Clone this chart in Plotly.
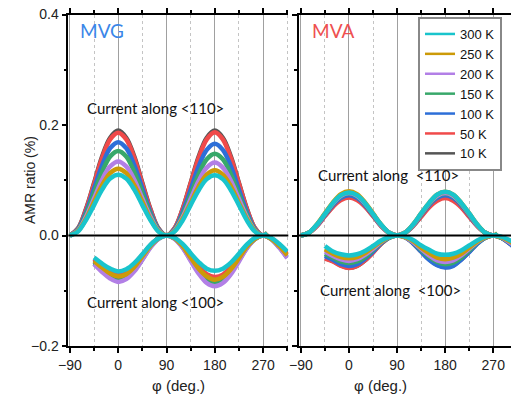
import plotly.graph_objects as go

TEMPS = ["10 K", "50 K", "100 K", "150 K", "200 K", "250 K", "300 K"]
COLORS = {"10 K": "#555555", "50 K": "#f04a4a", "100 K": "#2d6fd8", "150 K": "#38a86a",
          "200 K": "#b27fe6", "250 K": "#cc9a08", "300 K": "#19c4cc"}

PHI_110 = [-90, -75, -60, -45, -30, -15, 0, 15, 30, 45, 60, 75, 90, 105, 120, 135, 150, 165,
           180, 195, 210, 225, 240, 255, 270, 278]
PHI_100 = [-45, -30, -15, 0, 15, 30, 45, 60, 75, 90, 105, 120, 135, 150, 165, 180, 195, 210,
           225, 240, 255, 270, 285, 300, 315]

# MVG, current along <110>
MVG_110 = {
    "10 K":  [0, .013, .048, .095, .143, .177, .190, .177, .143, .095, .048, .013, 0, .013, .048, .095, .143, .177, .190, .177, .143, .095, .048, .013, 0, .003],
    "50 K":  [0, .012, .047, .093, .140, .174, .186, .174, .140, .093, .047, .012, 0, .013, .047, .094, .140, .174, .187, .174, .140, .094, .047, .013, 0, .003],
    "100 K": [0, .011, .042, .085, .127, .158, .169, .158, .127, .085, .042, .011, 0, .011, .042, .083, .125, .155, .166, .155, .125, .083, .042, .011, 0, .003],
    "150 K": [0, .010, .038, .077, .115, .143, .153, .143, .115, .077, .038, .010, 0, .010, .037, .074, .111, .138, .148, .138, .111, .074, .037, .010, 0, .004],
    "200 K": [0, .009, .034, .067, .101, .125, .134, .125, .101, .067, .034, .009, 0, .009, .033, .066, .099, .123, .132, .123, .099, .066, .033, .009, 0, .005],
    "250 K": [0, .008, .030, .061, .091, .113, .121, .113, .091, .061, .030, .008, 0, .008, .030, .059, .089, .110, .118, .110, .089, .059, .030, .008, 0, .005],
    "300 K": [0, .007, .028, .055, .083, .103, .110, .103, .083, .055, .028, .007, 0, .007, .027, .055, .082, .102, .109, .102, .082, .055, .027, .007, 0, .004],
}
# MVG, current along <100>
MVG_100 = {
    "10 K":  [-.043, -.055, -.065, -.070, -.066, -.054, -.036, -.018, -.005, 0, -.005, -.019, -.039, -.059, -.073, -.078, -.073, -.059, -.040, -.020, -.005, 0, -.005, -.019, -.035],
    "50 K":  [-.042, -.053, -.063, -.068, -.064, -.052, -.035, -.018, -.005, 0, -.005, -.018, -.038, -.056, -.070, -.075, -.071, -.057, -.038, -.019, -.005, 0, -.005, -.018, -.034],
    "100 K": [-.048, -.061, -.073, -.078, -.073, -.060, -.041, -.020, -.005, 0, -.005, -.021, -.043, -.065, -.080, -.086, -.081, -.065, -.044, -.022, -.006, 0, -.006, -.021, -.039],
    "150 K": [-.051, -.064, -.076, -.082, -.077, -.063, -.043, -.021, -.006, 0, -.005, -.021, -.044, -.066, -.082, -.088, -.083, -.067, -.045, -.022, -.006, 0, -.006, -.021, -.040],
    "200 K": [-.052, -.066, -.078, -.084, -.079, -.065, -.044, -.022, -.006, 0, -.006, -.022, -.046, -.069, -.086, -.092, -.086, -.070, -.047, -.023, -.006, 0, -.006, -.022, -.041],
    "250 K": [-.046, -.058, -.069, -.074, -.070, -.057, -.038, -.019, -.005, 0, -.005, -.019, -.040, -.060, -.074, -.080, -.075, -.061, -.041, -.020, -.006, 0, -.006, -.019, -.036],
    "300 K": [-.040, -.051, -.060, -.065, -.061, -.050, -.034, -.017, -.005, 0, -.004, -.015, -.032, -.048, -.060, -.064, -.060, -.049, -.033, -.016, -.004, 0, -.004, -.015, -.029],
}
# MVA, current along <110>
MVA_110 = {
    "10 K":  [0, .005, .018, .036, .053, .066, .071, .066, .053, .036, .018, .005, 0, .005, .018, .035, .053, .065, .070, .065, .053, .035, .018, .005, 0, .002],
    "50 K":  [0, .005, .017, .035, .052, .064, .069, .064, .052, .035, .017, .005, 0, .005, .017, .034, .051, .063, .068, .063, .051, .034, .017, .005, 0, .002],
    "100 K": [0, .005, .018, .037, .055, .068, .073, .068, .055, .037, .018, .005, 0, .005, .018, .037, .055, .068, .073, .068, .055, .037, .018, .005, 0, .002],
    "150 K": [0, .005, .019, .038, .057, .071, .076, .071, .057, .038, .019, .005, 0, .005, .019, .038, .057, .071, .076, .071, .057, .038, .019, .005, 0, .003],
    "200 K": [0, .005, .019, .039, .058, .072, .077, .072, .058, .039, .019, .005, 0, .005, .019, .039, .058, .072, .077, .072, .058, .039, .019, .005, 0, .003],
    "250 K": [0, .005, .020, .040, .060, .075, .080, .075, .060, .040, .020, .005, 0, .005, .020, .040, .059, .074, .079, .074, .059, .040, .020, .005, 0, .004],
    "300 K": [0, .005, .020, .039, .059, .073, .078, .073, .059, .039, .020, .005, 0, .005, .020, .040, .059, .074, .079, .074, .059, .040, .020, .005, 0, .003],
}
# MVA, current along <100>
MVA_100 = {
    "10 K":  [-.041, -.046, -.054, -.058, -.055, -.045, -.030, -.015, -.004, 0, -.003, -.014, -.029, -.043, -.053, -.057, -.054, -.043, -.029, -.014, -.004, 0, -.004, -.014, -.026],
    "50 K":  [-.042, -.047, -.055, -.059, -.055, -.045, -.031, -.015, -.004, 0, -.003, -.013, -.028, -.042, -.052, -.056, -.053, -.043, -.029, -.014, -.004, 0, -.004, -.013, -.025],
    "100 K": [-.037, -.044, -.052, -.055, -.052, -.042, -.029, -.014, -.004, 0, -.003, -.014, -.029, -.044, -.054, -.058, -.055, -.044, -.030, -.015, -.004, 0, -.004, -.014, -.026],
    "150 K": [-.033, -.040, -.047, -.050, -.047, -.039, -.026, -.013, -.004, 0, -.003, -.012, -.026, -.039, -.048, -.052, -.049, -.040, -.027, -.013, -.004, 0, -.004, -.012, -.023],
    "200 K": [-.029, -.037, -.043, -.046, -.043, -.035, -.024, -.012, -.003, 0, -.003, -.012, -.024, -.036, -.045, -.048, -.045, -.036, -.024, -.012, -.003, 0, -.003, -.012, -.022],
    "250 K": [-.025, -.033, -.039, -.041, -.039, -.032, -.021, -.011, -.003, 0, -.003, -.010, -.022, -.032, -.040, -.043, -.040, -.033, -.022, -.011, -.003, 0, -.003, -.010, -.019],
    "300 K": [-.019, -.029, -.034, -.036, -.034, -.028, -.019, -.009, -.003, 0, -.002, -.008, -.018, -.026, -.033, -.035, -.033, -.027, -.018, -.009, -.002, 0, -.002, -.008, -.016],
}

LW = 4.5
fig = go.Figure()
for panel, (d110, d100) in {("x", "y"): (MVG_110, MVG_100), ("x2", "y2"): (MVA_110, MVA_100)}.items():
    xa, ya = panel
    for T in TEMPS:
        for phis, vals in ((PHI_110, d110[T]), (PHI_100, d100[T])):
            fig.add_trace(go.Scatter(x=phis, y=vals, mode="lines", xaxis=xa, yaxis=ya,
                                     line=dict(color=COLORS[T], width=LW, shape="spline"),
                                     showlegend=False, hoverinfo="skip"))
# legend entries
for T in reversed(TEMPS):
    fig.add_trace(go.Scatter(x=[None], y=[None], mode="lines", name=T,
                             line=dict(color=COLORS[T], width=2.5), xaxis="x2", yaxis="y2"))

W, H = 511, 396
def px(v):
    return v / W
def py(v):
    return 1 - v / H

TICKFONT = dict(family="Liberation Sans, Arial", size=14, color="#222")
xcommon = dict(tick0=-90, dtick=90, ticks="outside", ticklen=5, tickwidth=1.5, tickcolor="black",
               showline=True, linecolor="black", linewidth=1.5, mirror="ticks",
               showgrid=True, gridcolor="#a0a0a0", gridwidth=1.4, zeroline=False,
               tickfont=TICKFONT,
               minor=dict(dtick=45, tick0=-90, ticks="outside", ticklen=3, tickcolor="black",
                          showgrid=True, gridcolor="#c4c4c4", griddash="dot", gridwidth=1))
ycommon = dict(range=[-0.2, 0.4], dtick=0.2, tick0=0, tickformat=".1f", ticks="outside", ticklen=5,
               tickwidth=1.5, tickcolor="black", showline=True, linecolor="black", linewidth=1.5,
               showgrid=False, zeroline=False, tickfont=TICKFONT,
               minor=dict(dtick=0.1, ticks="outside", ticklen=3, tickcolor="black"))
ydom = [py(346), py(14.5)]

fig.update_layout(
    width=W, height=H, margin=dict(l=0, r=0, t=0, b=0, autoexpand=False),
    paper_bgcolor="white", plot_bgcolor="white",
    xaxis=dict(domain=[px(68.3), px(288.3)], range=[-93, 317], anchor="y", **xcommon),
    yaxis=dict(domain=ydom, anchor="x", **ycommon),
    xaxis2=dict(domain=[px(299), 1], range=[-93.5, 303.2], anchor="y2", **xcommon),
    yaxis2=dict(domain=ydom, anchor="x2", showticklabels=False, **ycommon),
    showlegend=True,
    legend=dict(x=px(418), y=py(17), xanchor="left", yanchor="top", bgcolor="white",
                bordercolor="#888888", borderwidth=2, tracegroupgap=0,
                font=dict(family="Liberation Sans, Arial", size=13, color="#111")),
    shapes=[
        dict(type="line", xref="x domain", yref="y", x0=0, x1=1, y0=0, y1=0,
             line=dict(color="black", width=2), layer="above"),
        dict(type="line", xref="x2 domain", yref="y2", x0=0, x1=1, y0=0, y1=0,
             line=dict(color="black", width=2), layer="above"),
    ],
)

AF = dict(family="Lato, Noto Sans", size=15, color="#111")
ann = [
    dict(text="MVG", x=px(78), y=py(30), xanchor="left", font=dict(family="Lato, Noto Sans", size=19, color="#3a86e8")),
    dict(text="MVA", x=px(310), y=py(30), xanchor="left", font=dict(family="Lato, Noto Sans", size=19, color="#ee5050")),
    dict(text="Current along &lt;110&gt;", x=px(85), y=py(108), xanchor="left", font=AF),
    dict(text="Current along &lt;100&gt;", x=px(85), y=py(302), xanchor="left", font=AF),
    dict(text="Current along\u00a0 &lt;110&gt;", x=px(316), y=py(175), xanchor="left", font=AF),
    dict(text="Current along\u00a0 &lt;100&gt;", x=px(318), y=py(290), xanchor="left", font=AF),
    dict(text="AMR ratio (%)", x=px(20), y=py(180), textangle=-90, font=dict(family="Liberation Sans, Arial", size=14, color="#222")),
    dict(text="φ (deg.)", x=px(178), y=py(385), font=dict(family="Liberation Sans, Arial", size=15, color="#222")),
    dict(text="φ (deg.)", x=px(409), y=py(385), font=dict(family="Liberation Sans, Arial", size=15, color="#222")),
]
for a in ann:
    a.update(xref="paper", yref="paper", showarrow=False, yanchor="middle")
fig.update_layout(annotations=ann)

fig.write_html("out.html")
